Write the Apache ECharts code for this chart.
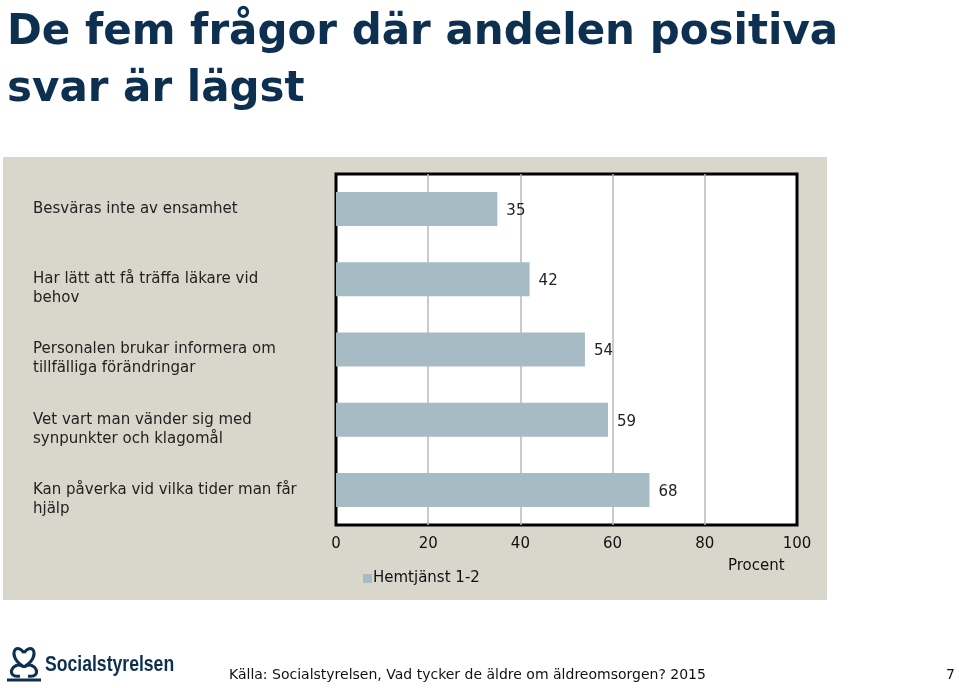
<!DOCTYPE html>
<html>
<head>
<meta charset="utf-8">
<script src="https://cdn.jsdelivr.net/npm/echarts@6/dist/echarts.min.js"></script>
<style>
html,body{margin:0;padding:0;background:#fff;}
#chart{width:959px;height:688px;}
</style>
</head>
<body>
<div id="chart"></div>
<script>
const titleText = 'De fem frågor där andelen positiva\nsvar är lägst';
const categories = [
  'Besväras inte av ensamhet',
  'Har lätt att få träffa läkare vid\nbehov',
  'Personalen brukar informera om\ntillfälliga förändringar',
  'Vet vart man vänder sig med\nsynpunkter och klagomål',
  'Kan påverka vid vilka tider man får\nhjälp'
];
const seriesName = 'Hemtjänst 1-2';
const values = [35, 42, 54, 59, 68];
const axisMin = 0, axisMax = 100, axisInterval = 20;
const axisName = 'Procent';
const sourceText = 'Källa: Socialstyrelsen, Vad tycker de äldre om äldreomsorgen? 2015';
const pageNumber = '7';
const logoText = 'Socialstyrelsen';

const bodyFont = '"DejaVu Sans", sans-serif';
const navy = '#0e3050';
const logoStroke = {fill: 'none', stroke: navy, lineWidth: 3};
const chart = echarts.init(document.getElementById('chart'), null, {renderer: 'canvas'});
chart.setOption({
  animation: false,
  backgroundColor: '#fff',
  title: {
    text: titleText,
    left: 2, top: 0,
    textStyle: {fontFamily: '"DejaVu Sans", sans-serif', fontWeight: 'bold', fontSize: 42, lineHeight: 57, color: navy}
  },
  graphic: [
    {type: 'rect', z: -10, shape: {x: 3, y: 157, width: 824, height: 443}, style: {fill: '#d9d7cc'}},
    {type: 'text', left: 728, top: 559, style: {text: axisName, font: '15px ' + bodyFont, fill: '#111'}},
    {type: 'text', left: 229, top: 668, style: {text: sourceText, font: '14px ' + bodyFont, fill: '#111'}},
    {type: 'text', left: 946, top: 668, style: {text: pageNumber, font: '14px ' + bodyFont, fill: '#111'}},
    {type: 'bezierCurve', shape: {x1: 24, y1: 667, cpx1: 6, cpy1: 656, cpx2: 16, cpy2: 641, x2: 24, y2: 653}, style: logoStroke},
    {type: 'bezierCurve', shape: {x1: 24, y1: 667, cpx1: 42, cpy1: 656, cpx2: 32, cpy2: 641, x2: 24, y2: 653}, style: logoStroke},
    {type: 'bezierCurve', shape: {x1: 24, y1: 667, cpx1: 12, cpy1: 659, cpx2: 5, cpy2: 679, x2: 20, y2: 676}, style: logoStroke},
    {type: 'bezierCurve', shape: {x1: 24, y1: 667, cpx1: 36, cpy1: 659, cpx2: 43, cpy2: 679, x2: 28, y2: 676}, style: logoStroke},
    {type: 'line', shape: {x1: 7, y1: 680, x2: 41, y2: 680}, style: {stroke: navy, lineWidth: 3}},
    {type: 'text', x: 45, y: 654, scaleX: 0.8, style: {text: logoText, font: 'bold 22px "Liberation Sans", sans-serif', fill: navy}}
  ],
  legend: {
    left: 358, top: 566,
    itemWidth: 9, itemHeight: 9, itemGap: 10,
    icon: 'rect',
    textStyle: {fontFamily: bodyFont, fontSize: 15, color: '#111', padding: [0,0,0,-4]},
    data: [seriesName]
  },
  grid: {
    left: 336, right: 162, top: 174, bottom: 163,
    show: true, backgroundColor: '#fff', borderColor: '#000', borderWidth: 3,
    containLabel: false
  },
  xAxis: {
    type: 'value', min: axisMin, max: axisMax, interval: axisInterval,
    axisLine: {show: false}, axisTick: {show: false},
    splitLine: {show: true, showMinLine: false, showMaxLine: false, lineStyle: {color: '#b8b8b8', width: 1.5}},
    axisLabel: {margin: 12, fontFamily: bodyFont, fontSize: 15, color: '#111'}
  },
  yAxis: {
    type: 'category', data: categories, inverse: true,
    axisLine: {show: false}, axisTick: {show: false},
    axisLabel: {
      margin: 303, align: 'left',
      fontFamily: bodyFont, fontSize: 15, lineHeight: 19, color: '#222',
      padding: [6, 0, 0, 0],
      formatter: v => v.indexOf('\n') >= 0 ? '\n' + v : v
    }
  },
  series: [{
    name: seriesName, type: 'bar', data: values,
    barWidth: 34,
    itemStyle: {color: '#a7bbc5'},
    label: {show: true, position: 'right', distance: 9, offset: [0, 2], fontFamily: bodyFont, fontSize: 15, color: '#222'}
  }]
});
</script>
</body>
</html>
